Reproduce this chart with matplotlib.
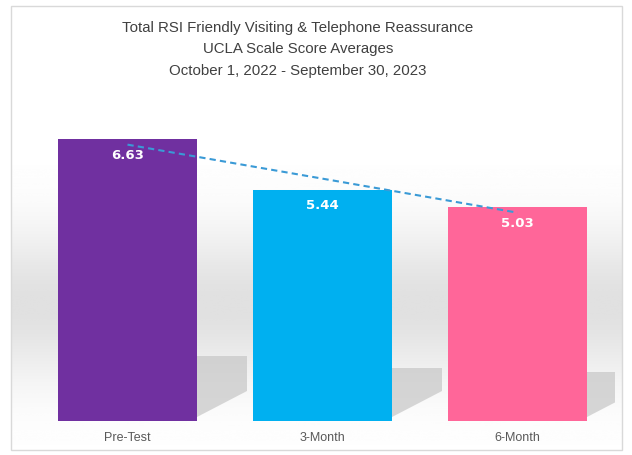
import matplotlib.pyplot as plt
import numpy as np
from matplotlib.patches import Rectangle, Polygon

# Data
categories = ['Pre-Test', '3-Month', '6-Month']
scores = [6.63, 5.44, 5.03]
bar_colors = ['#7030A0', '#00B0F0', '#FF6699']
title_lines = ['Total RSI Friendly Visiting & Telephone Reassurance',
               'UCLA Scale Score Averages',
               'October 1, 2022 - September 30, 2023']

W, H = 632, 455
fig = plt.figure(figsize=(W / 100, H / 100), dpi=100)
fig.patch.set_facecolor('white')

# Background panel with soft vertical gradient
bg = fig.add_axes([0, 0, 1, 1], zorder=0)
bg.set_xlim(0, W)
bg.set_ylim(H, 0)
bg.axis('off')
ys = np.linspace(0, 1, 300)
shade = 1 - 0.12 * np.exp(-((ys * H - 305) / 75) ** 2)
grad = np.tile(shade[:, None], (1, 2))
bg.imshow(grad, cmap='gray', vmin=0, vmax=1, extent=[11, 622, 455, 0],
          aspect='auto', interpolation='bicubic')
bg.add_patch(Rectangle((0, 0), W, 6, fc='white', ec='none'))
bg.add_patch(Rectangle((0, 450), W, 5, fc='white', ec='none'))
bg.add_patch(Rectangle((11, 6), 611, 444, fill=False, ec='#d9d9d9', lw=1))

# Title
for i, line in enumerate(title_lines):
    bg.text(298, 28 + i * 21.5, line, ha='center', va='center', fontsize=10.8,
            color='#404040', family=['Liberation Sans', 'DejaVu Sans'])

# Bars
ax = fig.add_axes([30 / W, 34 / H, 585 / W, 321 / H], zorder=1)
ax.patch.set_alpha(0)
x = np.arange(len(categories))
width = 0.71

# floor shadows to the right of each bar
for xi, v in zip(x, scores):
    r = xi + width / 2
    top = 0.23 * v
    ax.add_patch(Polygon([(r, 0.1), (r, top), (r + 0.26, top), (r + 0.26, 0.7)],
                         closed=True, fc='#c6c6c6', ec='none', alpha=0.7, zorder=1))

ax.bar(x, scores, width=width, color=bar_colors, zorder=2)

for xi, v in zip(x, scores):
    ax.text(xi, v - 0.38, f'{v:.2f}', ha='center', va='center', color='white',
            fontsize=9.5, fontweight='bold', zorder=4)

# Linear trend line
fit = np.polyfit(x, scores, 1)
ax.plot(x, np.polyval(fit, x), ls='--', color='#3a9ad6', lw=1.5, dashes=(3, 2), zorder=3)

ax.set_xlim(-0.5, 2.5)
ax.set_ylim(0, 7.55)
ax.set_yticks([])
ax.set_xticks(x)
ax.set_xticklabels(categories, fontsize=9, color='#595959',
                   family=['Liberation Sans', 'DejaVu Sans'])
ax.tick_params(axis='x', length=0, pad=8)
for s in ax.spines.values():
    s.set_visible(False)

fig.savefig('out.png', dpi=100)
